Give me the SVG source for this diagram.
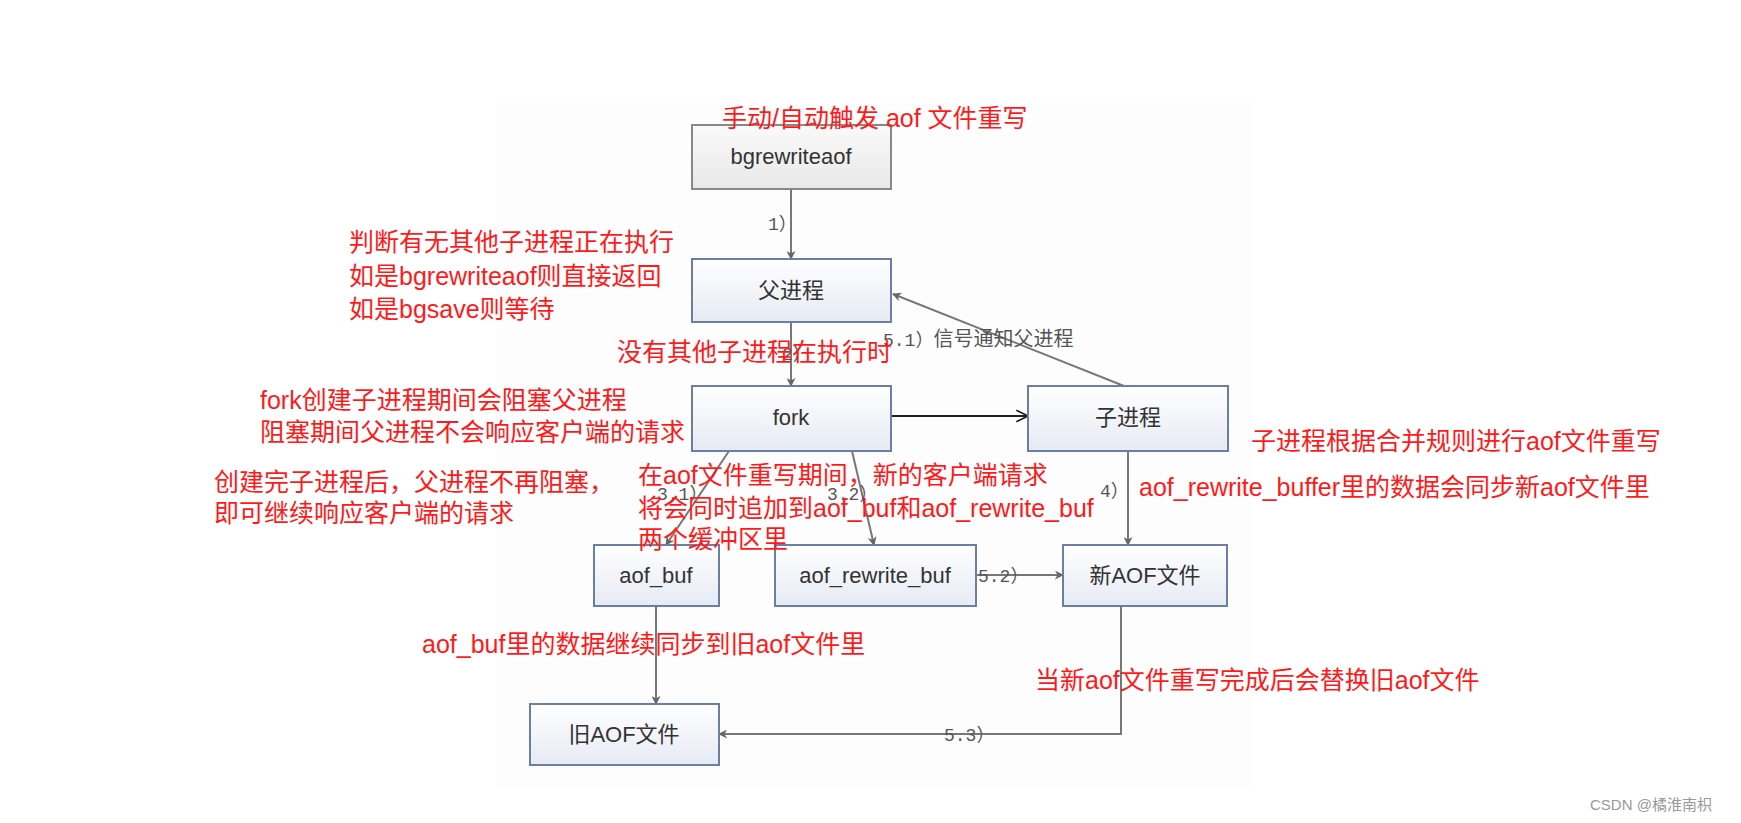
<svg xmlns="http://www.w3.org/2000/svg" width="1741" height="823" viewBox="0 0 1741 823">
<defs>
<linearGradient id="g" x1="0" y1="0" x2="0" y2="1"><stop offset="0" stop-color="#ffffff"/><stop offset="1" stop-color="#e6eaf3"/></linearGradient>
<linearGradient id="g2" x1="0" y1="0" x2="0" y2="1"><stop offset="0" stop-color="#fafafa"/><stop offset="1" stop-color="#e8e8e8"/></linearGradient>
<marker id="a" viewBox="0 0 10 10" refX="9" refY="5" markerWidth="9" markerHeight="9" orient="auto" markerUnits="userSpaceOnUse"><path d="M0,0 L10,5 L0,10 L3,5 z" fill="#666"/></marker>
<marker id="o" viewBox="0 0 12 12" refX="11" refY="6" markerWidth="14" markerHeight="14" orient="auto" markerUnits="userSpaceOnUse"><path d="M1,1 L11,6 L1,11" fill="none" stroke="#222" stroke-width="1.5"/></marker>
</defs>
<style>
.n{fill:url(#g);stroke:#6b7fa6;stroke-width:2}
.t{font-family:"Liberation Sans","Noto Sans CJK SC",sans-serif;font-size:22px;fill:#333;text-anchor:middle}
.r{font-family:"Liberation Sans","Noto Sans CJK SC",sans-serif;font-size:25px;fill:#ff1a1a}
.l{font-family:"Liberation Mono","Noto Sans CJK SC",monospace;font-size:18px;fill:#555}
.c{fill:none;stroke:#777;stroke-width:2;marker-end:url(#a)}
</style>
<rect width="1741" height="823" fill="#fff"/>
<rect x="496" y="103" width="758" height="685" fill="#fdfdfe"/>
<g id="connectors">
<line class="c" x1="791" y1="189" x2="791" y2="259"/>
<line class="c" x1="791" y1="322" x2="791" y2="386"/>
<line x1="891" y1="416" x2="1028" y2="416" stroke="#222" stroke-width="2" marker-end="url(#o)"/>
<line class="c" x1="1124" y1="386" x2="893" y2="294"/>
<line class="c" x1="729" y1="451" x2="666" y2="545"/>
<line class="c" x1="852" y1="451" x2="874" y2="545"/>
<line class="c" x1="976" y1="575" x2="1063" y2="575"/>
<line class="c" x1="1128" y1="451" x2="1128" y2="545"/>
<line class="c" x1="656" y1="606" x2="656" y2="704"/>
<polyline class="c" points="1121,606 1121,734 719,734"/>
<text class="l" x="768" y="230">1）</text>
<text class="l" x="782" y="360">2）</text>
<text class="l" x="883" y="346">5.1）<tspan font-family="Noto Sans CJK SC" font-size="20">信号通知父进程</tspan></text>
<text class="l" x="657" y="500">3.1）</text>
<text class="l" x="827" y="500">3.2）</text>
<text class="l" x="978" y="582">5.2）</text>
<text class="l" x="1100" y="497">4）</text>
<text class="l" x="944" y="741">5.3）</text>
</g>
<g id="bgrewriteaof"><rect x="692" y="125" width="199" height="64" fill="url(#g2)" stroke="#888" stroke-width="2"/><text class="t" x="791" y="164">bgrewriteaof</text></g>
<g id="parent"><rect class="n" x="692" y="259" width="199" height="63"/><text class="t" x="791" y="298">父进程</text></g>
<g id="fork"><rect class="n" x="692" y="386" width="199" height="65"/><text class="t" x="791" y="425">fork</text></g>
<g id="child"><rect class="n" x="1028" y="386" width="200" height="65"/><text class="t" x="1128" y="425">子进程</text></g>
<g id="aof_buf"><rect class="n" x="594" y="545" width="125" height="61"/><text class="t" x="656" y="583">aof_buf</text></g>
<g id="aof_rewrite_buf"><rect class="n" x="775" y="545" width="201" height="61"/><text class="t" x="875" y="583">aof_rewrite_buf</text></g>
<g id="newaof"><rect class="n" x="1063" y="545" width="164" height="61"/><text class="t" x="1145" y="583">新AOF文件</text></g>
<g id="oldaof"><rect class="n" x="530" y="704" width="189" height="61"/><text class="t" x="624" y="742">旧AOF文件</text></g>
<g id="notes">
<text class="r" x="722" y="127">手动/自动触发 aof 文件重写</text>
<text class="r" x="349" y="251">判断有无其他子进程正在执行</text>
<text class="r" x="349" y="285">如是bgrewriteaof则直接返回</text>
<text class="r" x="349" y="318">如是bgsave则等待</text>
<text class="r" x="617" y="361">没有其他子进程在执行时</text>
<text class="r" x="260" y="409">fork创建子进程期间会阻塞父进程</text>
<text class="r" x="260" y="441">阻塞期间父进程不会响应客户端的请求</text>
<text class="r" x="214" y="491">创建完子进程后，父进程不再阻塞，</text>
<text class="r" x="214" y="522">即可继续响应客户端的请求</text>
<text class="r" x="638" y="484">在aof文件重写期间，新的客户端请求</text>
<text class="r" x="638" y="517">将会同时追加到aof_buf和aof_rewrite_buf</text>
<text class="r" x="638" y="548">两个缓冲区里</text>
<text class="r" x="1251" y="450">子进程根据合并规则进行aof文件重写</text>
<text class="r" x="1139" y="496">aof_rewrite_buffer里的数据会同步新aof文件里</text>
<text class="r" x="422" y="653">aof_buf里的数据继续同步到旧aof文件里</text>
<text class="r" x="1035" y="689">当新aof文件重写完成后会替换旧aof文件</text>
<text x="1590" y="810" font-family="Liberation Sans,Noto Sans CJK SC,sans-serif" font-size="15" fill="#999">CSDN @橘淮南枳</text>
</g>
</svg>
